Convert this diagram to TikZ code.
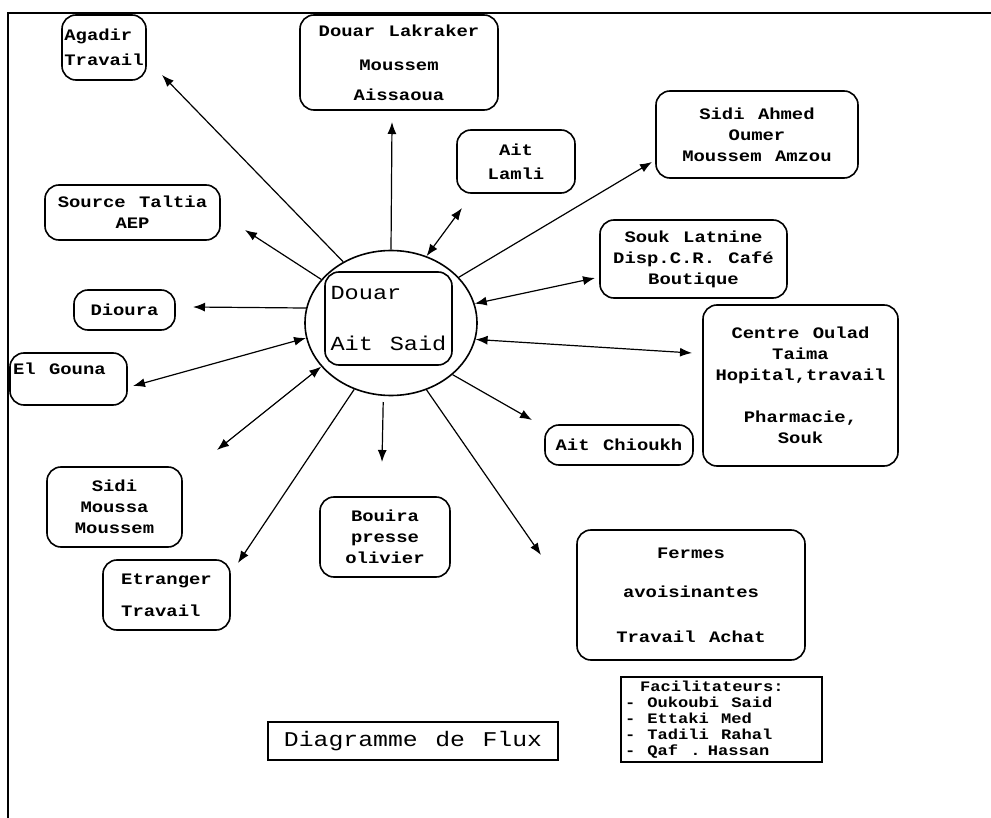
\documentclass[tikz,border=0pt]{standalone}
\usepackage{fontspec}
\setmainfont{Liberation Mono}[FakeStretch=1.18,WordSpace=1.18]
\usetikzlibrary{
    shapes.geometric,% for the ellipse
    arrows.meta%
}

\begin{document}
\begin{tikzpicture}[x=1pt,y=-1pt,
    place/.style={draw,rounded corners=14pt,line width=1.6pt,align=center,inner sep=2pt,
        font=\bfseries\fontsize{16}{21}\selectfont},
    flow/.style={line width=1.2pt,-{Latex[length=12pt,width=9pt]}},
    both/.style={line width=1.2pt,{Latex[length=12pt,width=9pt]}-{Latex[length=12pt,width=9pt]}}]
    \useasboundingbox (0,0) rectangle (991,818);

    \draw[line width=2.2pt] (8,818) -- (8,13) -- (991,13); %%% frame

    \node[draw,ellipse,line width=1.6pt,minimum width=172pt,minimum height=145pt] (douar) at (391,323) {};
    \node[place,minimum width=127pt,minimum height=93pt,align=left,
        font=\fontsize{20}{24}\selectfont] (douarbox) at (388.5,318.5) {Douar\\[27pt]Ait Said};

    \node[place,minimum width=84pt,minimum height=65pt,align=left] (agadir) at (104,47.5) {Agadir\\[4pt]Travail};
    \node[place,minimum width=198pt,minimum height=95pt] (lakraker) at (399,62.5) {Douar Lakraker\\[13pt]Moussem\\[9pt]Aissaoua};
    \node[place,minimum width=118pt,minimum height=63pt] (lamli) at (516,161.5) {Ait\\[3pt]Lamli};
    \node[place,minimum width=202pt,minimum height=87pt] (sidiahmed) at (757,134.5) {Sidi Ahmed\\Oumer\\Moussem Amzou};
    \node[place,minimum width=175pt,minimum height=55pt] (source) at (132.5,212.5) {Source Taltia\\AEP};
    \node[place,minimum width=187pt,minimum height=78pt] (souk) at (693.5,259) {Souk Latnine\\Disp.C.R. Café\\Boutique};
    \node[place,minimum width=101pt,minimum height=40pt] (dioura) at (124.5,310) {Dioura};
    \node[place,minimum width=117pt,minimum height=52pt,text width=111pt,align=left] (elgouna) at (68.5,379)
        {\spaceskip=0pt El Gouna\\~};
    \node[place,minimum width=195pt,minimum height=161pt] (centre) at (800.5,385.5)
        {Centre Oulad\\Taima\\Hopital,travail\\[21pt]Pharmacie,\\Souk};
    \node[place,minimum width=148pt,minimum height=40pt] (chioukh) at (619,445) {Ait Chioukh};
    \node[place,minimum width=135pt,minimum height=80pt] (moussa) at (114.5,507) {Sidi\\Moussa\\Moussem};
    \node[place,minimum width=130pt,minimum height=80pt] (bouira) at (385,537) {Bouira\\presse\\olivier};
    \node[place,minimum width=228pt,minimum height=130pt] (fermes) at (691,595) {Fermes\\[18pt]avoisinantes\\[24pt]Travail Achat};
    \node[place,minimum width=127pt,minimum height=70pt,align=left] (etranger) at (166.5,595) {Etranger\\[11pt]Travail};

    \node[draw,line width=1.6pt,minimum width=201pt,minimum height=85pt,text width=193pt,align=left,inner sep=3pt,
        font=\bfseries\fontsize{14.5}{16}\selectfont] (facil) at (721.5,719.5)
        {\spaceskip=0pt\hspace*{15pt}Facilitateurs:\\- Oukoubi Said\\- Ettaki Med\\- Tadili Rahal\\- Qaf . Hassan};
    \node[draw,line width=1.6pt,minimum width=290pt,minimum height=38pt,
        font=\fontsize{21}{24}\selectfont] (flux) at (413,741) {Diagramme de Flux};

    %%% free arrow ends
    \coordinate (tagadir) at (162,75);
    \coordinate (tlakraker) at (392,122);
    \coordinate (tlamli) at (462,208);
    \coordinate (tsidiahmed) at (652,162);
    \coordinate (tsouk) at (595,278);
    \coordinate (tcentre) at (692,353);
    \coordinate (tchioukh) at (532,420);
    \coordinate (tfermes) at (541,555);
    \coordinate (tbouira) at (382,462);
    \coordinate (tetranger) at (238,563);
    \coordinate (tmoussa) at (217,450);
    \coordinate (tgouna) at (133,386);
    \coordinate (tdioura) at (193,307);
    \coordinate (tsource) at (245,230);

    \draw[flow] (douar.128) -- (tagadir);
    \draw[flow] (douar.90) -- (tlakraker);
    \draw[both] (douar.62) -- (tlamli);
    \draw[flow] (douar.34) -- (tsidiahmed);
    \draw[both] (douar.13) -- (tsouk);
    \draw[both] (douar.-11) -- (tcentre);
    \draw[flow] (douar.-40) -- (tchioukh);
    \draw[flow] (douar.-62) -- (tfermes);
    \draw[flow,shorten <=6pt] (douar.-96) -- (tbouira);
    \draw[flow] (douar.-119) -- (tetranger);
    \draw[both] (douar.-148) -- (tmoussa);
    \draw[both] (douar.190) -- (tgouna);
    \draw[flow] (douar.170) -- (tdioura);
    \draw[flow] (douar.148) -- (tsource);
\end{tikzpicture}
\end{document}
